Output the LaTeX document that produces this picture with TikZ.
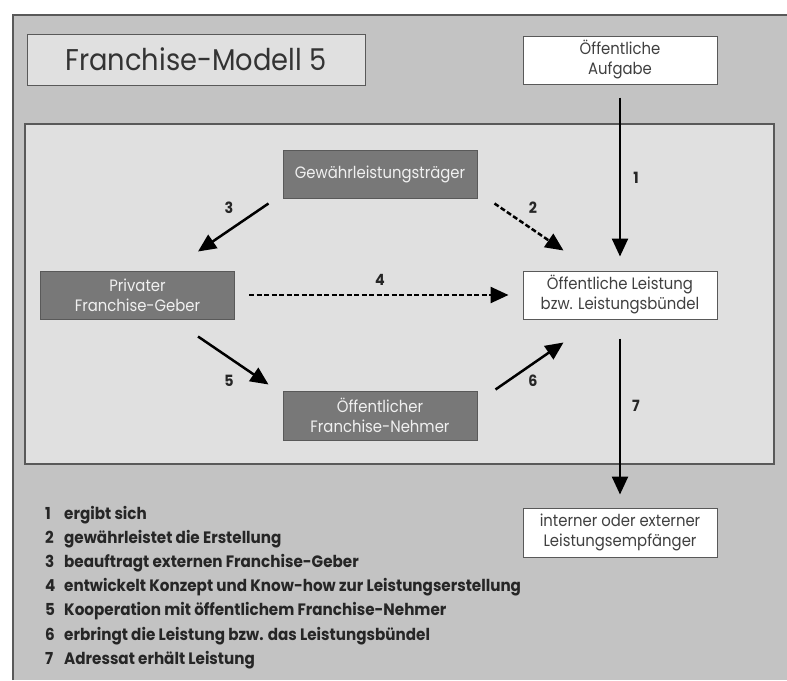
\documentclass[tikz,border=0pt]{standalone}
\usepackage{fontspec}
\setmainfont{Poppins}
\newfontfamily\boxfont[FakeStretch=0.9]{Poppins}
\newfontfamily\titlefont[FakeStretch=0.91]{Poppins}
\newfontfamily\legfont[FakeStretch=0.92]{Poppins}
\usepackage{tikz}
\usetikzlibrary{arrows.meta}
\usepackage{xcolor}
\definecolor{outergray}{gray}{0.765}
\definecolor{innergray}{gray}{0.88}
\definecolor{boxgray}{gray}{0.47}
\definecolor{framegray}{gray}{0.35}

\begin{document}
\begin{tikzpicture}[x=1pt,y=-1pt,
  box/.style={draw=framegray,line width=1pt,minimum width=194pt,minimum height=48pt,
    inner sep=0pt,align=center,font=\boxfont\fontsize{16.5}{20}\selectfont},
  darkbox/.style={box,fill=boxgray,text=white!94!black},
  whitebox/.style={box,fill=white,text=black!75},
  flow/.style={line width=2.5pt,-{Triangle[length=18pt,width=16pt]}},
  num/.style={font=\legfont\bfseries\fontsize{15.5}{16}\selectfont,text=black!85},
  legend/.style={font=\legfont\bfseries\fontsize{16.5}{18}\selectfont,text=black!85,inner sep=0pt}]
  \useasboundingbox (0,0) rectangle (787,680);
  % panels
  \fill[outergray] (13,15) rectangle (787,680);
  \draw[framegray,line width=1.2pt] (13,680) -- (13,15) -- (787,15);
  \draw[framegray,fill=innergray,line width=1.2pt] (25,124) rectangle (774,464);

  \node[box,fill=innergray,minimum width=338pt,minimum height=51pt,
    font=\titlefont\fontsize{30}{32}\selectfont,text=black!80] (title) at (196,59.5) {Franchise-Modell 5};
  \node[whitebox] (aufgabe) at (620,60) {Öffentliche\\Aufgabe};
  \node[darkbox] (traeger) at (380,174) {Gewährleistungsträger};
  \node[darkbox] (geber) at (137.5,295) {Privater\\Franchise-Geber};
  \node[whitebox] (leistung) at (620,295) {Öffentliche Leistung\\bzw. Leistungsbündel};
  \node[darkbox,minimum height=49pt] (nehmer) at (380,415.5) {Öffentlicher\\Franchise-Nehmer};
  \node[whitebox,minimum height=49pt] (empfaenger) at (620,532.5) {interner oder externer\\Leistungsempfänger};

  % connectors
  \draw[flow,shorten <=13pt,shorten >=14pt] (aufgabe.south) -- (leistung.north);
  \draw[flow,dash pattern=on 5pt off 2.5pt] ([xshift=17pt,yshift=-5pt]traeger.south east) -- ([xshift=41pt,yshift=20pt]leistung.north west);
  \draw[flow] ([xshift=-14pt,yshift=-5pt]traeger.south west) -- ([xshift=-37pt,yshift=19pt]geber.north east);
  \draw[flow,dash pattern=on 5pt off 2.5pt,shorten <=14pt,shorten >=14pt] (geber.east) -- (leistung.west);
  \draw[flow] ([xshift=-37pt,yshift=-17pt]geber.south east) -- ([xshift=-14pt,yshift=6pt]nehmer.north west);
  \draw[flow] ([xshift=18pt,yshift=1pt]nehmer.north east) -- ([xshift=41pt,yshift=-23pt]leistung.south west);
  \draw[flow,shorten <=19pt,shorten >=13pt] (leistung.south) -- (empfaenger.north);

  \node[num] (n1) at (636,178) {1};
  \node[num] (n2) at (533,208) {2};
  \node[num] (n3) at (229,208) {3};
  \node[num] (n4) at (380,280) {4};
  \node[num] (n5) at (229,381) {5};
  \node[num] (n6) at (533,381) {6};
  \node[num] (n7) at (636,406) {7};

  % legend
  \foreach \n/\txt [count=\i from 0] in {1/ergibt sich,
      2/gewährleistet die Erstellung,
      3/beauftragt externen Franchise-Geber,
      4/entwickelt Konzept und Know-how zur Leistungserstellung,
      5/Kooperation mit öffentlichem Franchise-Nehmer,
      6/erbringt die Leistung bzw. das Leistungsbündel,
      7/Adressat erhält Leistung}
    \node[legend,anchor=base west] (leg\n) at (45,519+24.2*\i) {\makebox[19pt][l]{\n}\txt};
\end{tikzpicture}
\end{document}
